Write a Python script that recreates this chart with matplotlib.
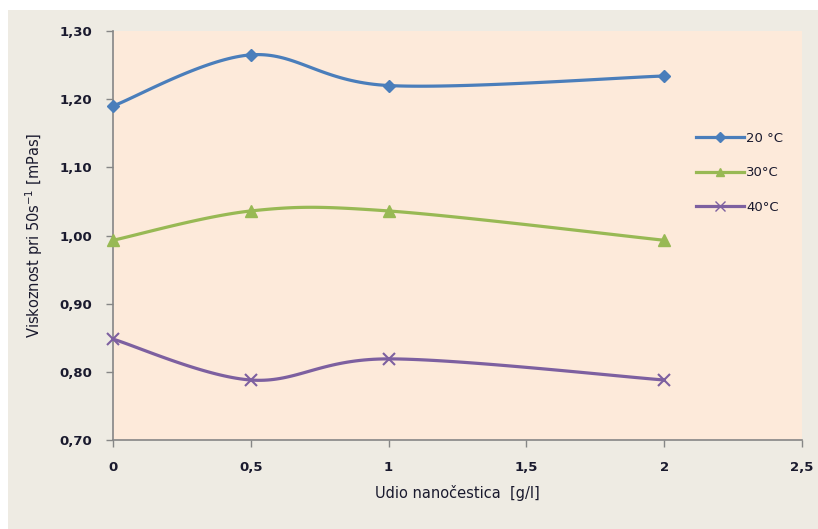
import matplotlib.pyplot as plt
import matplotlib.patches as mpatches
import numpy as np
from matplotlib.ticker import FuncFormatter

# -----------------------------
# Data
# -----------------------------
udio = [0, 0.5, 1, 2]
visk_20 = [1.190, 1.265, 1.220, 1.234]
visk_30 = [0.993, 1.036, 1.036, 0.993]
visk_40 = [0.848, 0.788, 0.819, 0.788]
labels = ["20 °C", "30°C", "40°C"]


def smooth(x, y, n=40):
    # Excel-like smoothed line (Catmull-Rom via cubic Bezier)
    p = np.column_stack([x, y]).astype(float)
    pts = np.vstack([p[0], p, p[-1]])
    out = []
    for i in range(1, len(pts) - 2):
        p0, p1, p2, p3 = pts[i - 1], pts[i], pts[i + 1], pts[i + 2]
        c1 = p1 + (p2 - p0) / 6
        c2 = p2 - (p3 - p1) / 6
        t = np.linspace(0, 1, n)[:, None]
        seg = ((1 - t) ** 3) * p1 + 3 * ((1 - t) ** 2) * t * c1 + 3 * (1 - t) * t ** 2 * c2 + t ** 3 * p2
        out.append(seg if i == 1 else seg[1:])
    s = np.vstack(out)
    return s[:, 0], s[:, 1]


W, H = 818, 529
fig = plt.figure(figsize=(W / 100, H / 100), dpi=100, facecolor="white")
fig.patches.append(mpatches.Rectangle((8 / W, 0), 1, 1 - 10 / H, transform=fig.transFigure,
                                      facecolor="#EEEBE3", edgecolor="none", zorder=-10))

ax = fig.add_axes([113 / W, 1 - 440 / H, (802 - 113) / W, (440 - 31) / H])
ax.set_zorder(1)
ax.set_facecolor("#FDEADA")

series = [
    (visk_20, "#4A7EBB", "D", 6),
    (visk_30, "#98B954", "^", 8),
    (visk_40, "#7D60A0", "x", 9),
]
for (vals, col, mk, ms), lab in zip(series, labels):
    sx, sy = smooth(udio, vals)
    ax.plot(sx, sy, color=col, lw=2.3, solid_capstyle="round", zorder=3)
    ax.plot(udio, vals, linestyle="none", marker=mk, ms=ms, color=col,
            mew=1.5 if mk == "x" else 1, zorder=4, clip_on=False)
    ax.plot([], [], color=col, lw=2.3, marker=mk, ms=ms * 0.8, label=lab)

ax.set_xlim(0, 2.5)
ax.set_ylim(0.70, 1.30)
ax.set_xticks([0, 0.5, 1, 1.5, 2, 2.5])
ax.set_yticks(np.arange(0.70, 1.301, 0.10))

fmt_x = FuncFormatter(lambda v, p: ("%g" % v).replace(".", ","))
fmt_y = FuncFormatter(lambda v, p: ("%.2f" % v).replace(".", ","))
ax.xaxis.set_major_formatter(fmt_x)
ax.yaxis.set_major_formatter(fmt_y)

for s in ["top", "right"]:
    ax.spines[s].set_visible(False)
for s in ["left", "bottom"]:
    ax.spines[s].set_color("#868686")
    ax.spines[s].set_linewidth(1.2)

ax.tick_params(axis="both", direction="out", length=5, color="#868686", width=1,
               labelsize=9.5, labelcolor="#1A1A2E")
ax.tick_params(axis="x", pad=10)
ax.tick_params(axis="y", pad=10)
for t in ax.get_xticklabels() + ax.get_yticklabels():
    t.set_fontweight("bold")

ax.set_xlabel("Udio nanočestica  [g/l]", fontsize=10.5, color="#1A1A2E", labelpad=8)
ax.set_ylabel("Viskoznost pri 50s$^{-1}$ [mPas]", fontsize=10.5, color="#1A1A2E", labelpad=10)

leg = ax.legend(loc="upper left", bbox_to_anchor=(0.838, 0.767), frameon=False,
                borderaxespad=0, fontsize=9.5, handlelength=3.7, handletextpad=0.15,
                labelspacing=1.65, labelcolor="#1A1A2E")

plt.savefig("out.png", dpi=100, facecolor=fig.get_facecolor())
